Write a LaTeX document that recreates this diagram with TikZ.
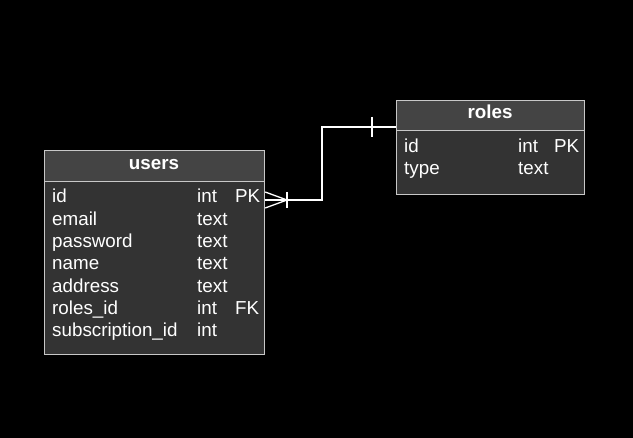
\documentclass[tikz,border=0pt]{standalone}
\usepackage{fontspec}
\setmainfont{Liberation Sans}
\begin{document}
\begin{tikzpicture}[x=1pt,y=-1pt,
  head/.style={draw=boxline,fill=headfill,line width=1.2pt,inner sep=0pt},
  body/.style={draw=boxline,fill=bodyfill,line width=1.2pt,inner sep=0pt},
  txt/.style={text=white,anchor=base west,inner sep=0pt,font=\fontsize{18.8}{22}\selectfont},
  ttl/.style={text=white,anchor=base,inner sep=0pt,font=\fontsize{18.8}{22}\selectfont\bfseries},
  link/.style={draw=white,line width=1.3pt}]
\definecolor{boxline}{HTML}{C8C8C8}
\definecolor{headfill}{HTML}{444444}
\definecolor{bodyfill}{HTML}{333333}
\useasboundingbox (0,0) rectangle (633,438);
\fill[black] (0,0) rectangle (633,438);
% users table
\node[head,minimum width=220pt,minimum height=31pt,anchor=north west] (usershead) at (44,150) {};
\node[body,minimum width=220pt,minimum height=173pt,anchor=north west] (usersbody) at (44,181) {};
\node[ttl] (userst) at (154,170) {users};
\node[txt] (u1a) at (52,203) {id};
\node[txt] (u1b) at (197,203) {int};
\node[txt] (u1c) at (235,203) {PK};
\node[txt] (u2a) at (52,225.3) {email};
\node[txt] (u2b) at (197,225.3) {text};
\node[txt] (u3a) at (52,247.6) {password};
\node[txt] (u3b) at (197,247.6) {text};
\node[txt] (u4a) at (52,270) {name};
\node[txt] (u4b) at (197,270) {text};
\node[txt] (u5a) at (52,292.3) {address};
\node[txt] (u5b) at (197,292.3) {text};
\node[txt] (u6a) at (52,314.6) {roles\_id};
\node[txt] (u6b) at (197,314.6) {int};
\node[txt] (u6c) at (235,314.6) {FK};
\node[txt] (u7a) at (52,337) {subscription\_id};
\node[txt] (u7b) at (197,337) {int};
% roles table
\node[head,minimum width=188pt,minimum height=30pt,anchor=north west] (roleshead) at (396,100) {};
\node[body,minimum width=188pt,minimum height=64pt,anchor=north west] (rolesbody) at (396,130) {};
\node[ttl] (rolest) at (490,119) {roles};
\node[txt] (r1a) at (404,152.3) {id};
\node[txt] (r1b) at (518,152.3) {int};
\node[txt] (r1c) at (554,152.3) {PK};
\node[txt] (r2a) at (404,174.5) {type};
\node[txt] (r2b) at (518,174.5) {text};
% connector
\coordinate (ua) at (usersbody.east |- 0,200);
\coordinate (rb) at (roleshead.west |- 0,127);
\draw[link] (ua) -- (287,200) -- (322,200) -- (322,127) -- (rb);
\draw[link] ([yshift=-8pt]ua) -- (287,200) -- ([yshift=8pt]ua);
\draw[link] (287,192) -- (287,208);
\draw[link] (372,117) -- (372,137);
\end{tikzpicture}
\end{document}
